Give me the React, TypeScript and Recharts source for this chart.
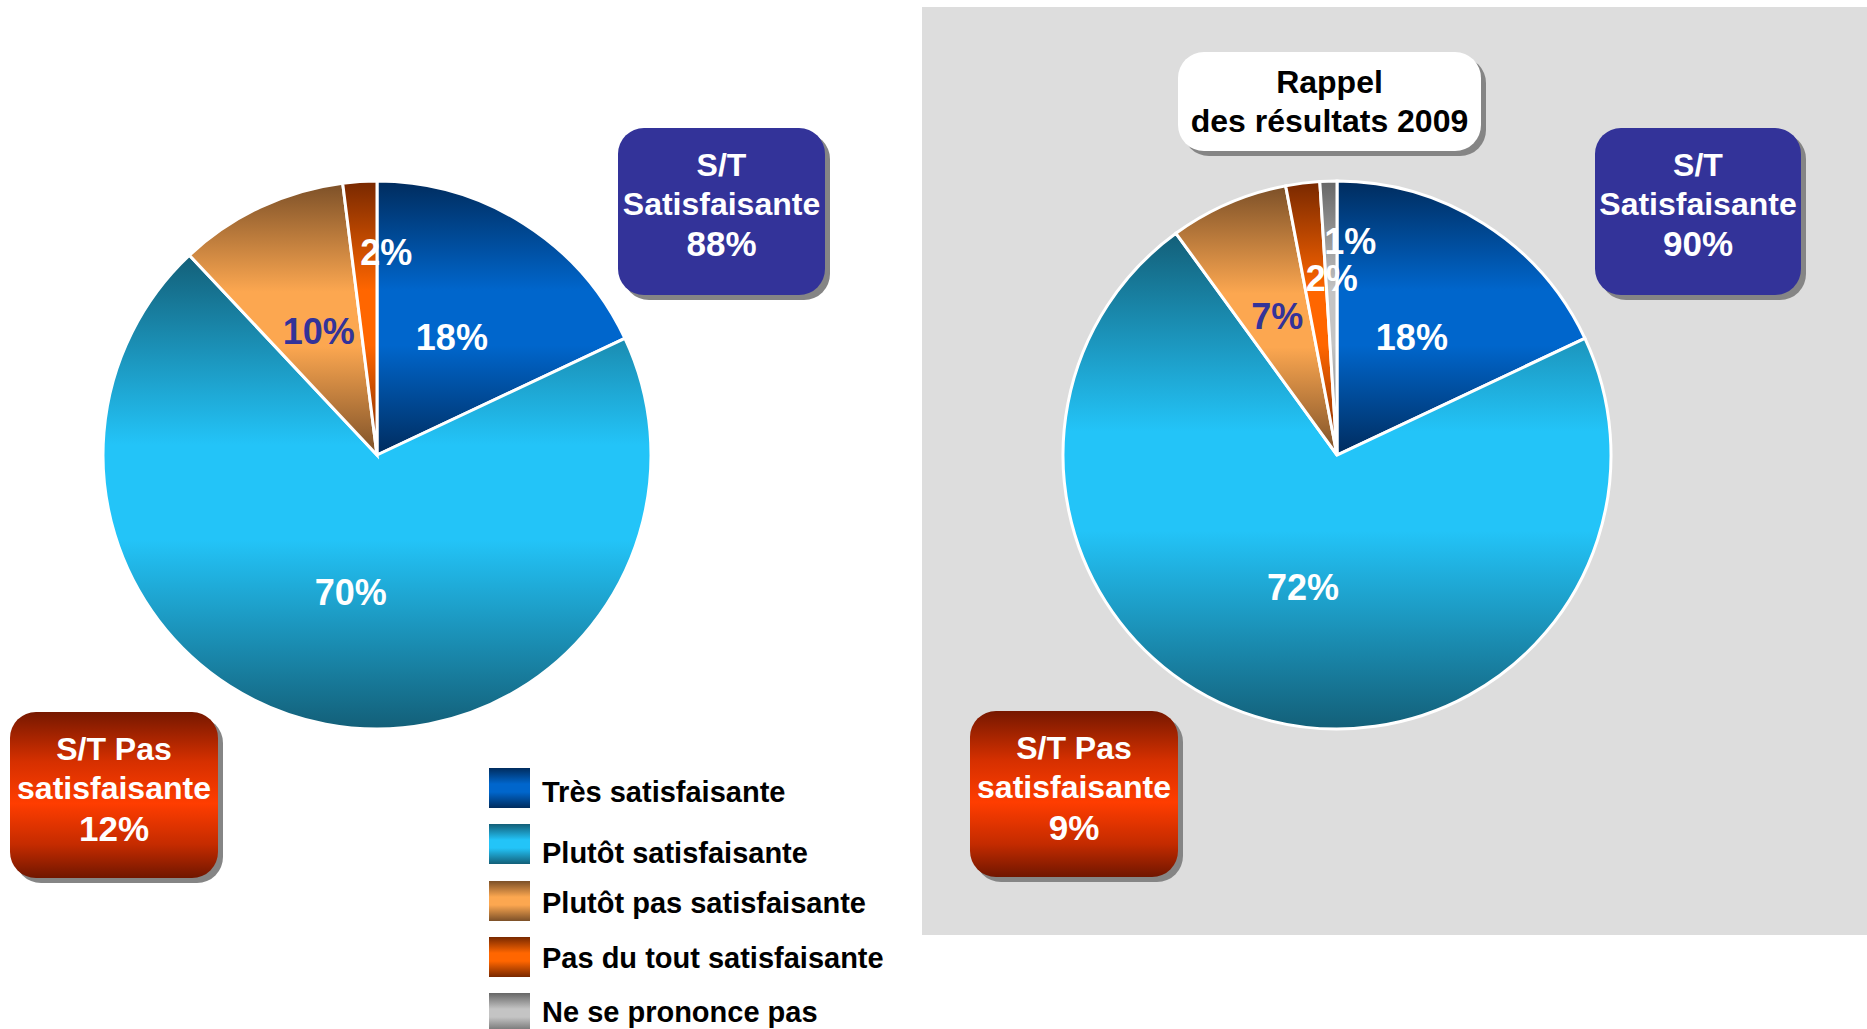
import React from "react";
import { Cell, Pie, PieChart } from "recharts";

const CATEGORIES = [
  "Très satisfaisante",
  "Plutôt satisfaisante",
  "Plutôt pas satisfaisante",
  "Pas du tout satisfaisante",
  "Ne se prononce pas",
];
const VALUES_CURRENT = [18, 70, 10, 2, 0];
const VALUES_2009 = [18, 72, 7, 2, 1];
const SUBTOTAL_SATISF = [88, 90];
const SUBTOTAL_PAS_SATISF = [12, 9];
const REMINDER_LINES = ["Rappel", "des résultats 2009"];

const FONT = "'Liberation Sans', Arial, Helvetica, sans-serif";
const RAD = Math.PI / 180;

// gradients: dark -> bright -> dark, top to bottom
const SLICE_GRADIENTS = [
  { id: "g-tres", dark: "#002c5e", bright: "#0066cc" },
  { id: "g-plutot", dark: "#135f78", bright: "#23c4f8" },
  { id: "g-plutotpas", dark: "#7c5028", bright: "#fca750" },
  { id: "g-pasdutout", dark: "#782800", bright: "#ff6600" },
  { id: "g-nsp", dark: "#666666", bright: "#c4c4c4" },
];
const LABEL_COLORS = ["#ffffff", "#ffffff", "#333399", "#ffffff", "#ffffff"];

// label placement (fraction of radius, horizontal nudge in px)
const LEFT_LABEL_RADIUS = [0.51, 0.51, 0.5, 0.74, 0];
const LEFT_LABEL_SHIFT = [0, 0, 0, 22, 0];
const RIGHT_LABEL_RADIUS = [0.51, 0.5, 0.55, 0.65, 0.78];
const RIGHT_LABEL_SHIFT = [0, 0, 0, 17, 20];

// legend rows: swatch top and text baseline
const LEGEND_SWATCH_TOP = [768, 824, 881, 937, 993];
const LEGEND_TEXT_BASE = [802, 863, 913, 968, 1022];

const toRows = (values: number[]) =>
  CATEGORIES.map((name, i) => ({ name, value: values[i] }));

function makeLabel(radii: number[], shifts: number[]) {
  return (props: any) => {
    const { cx, cy, midAngle, outerRadius, index, value } = props;
    if (!value) return null;
    const r = outerRadius * radii[index];
    const x = cx + r * Math.cos(-midAngle * RAD) + shifts[index];
    const y = cy + r * Math.sin(-midAngle * RAD);
    return (
      <text
        x={x}
        y={y}
        fill={LABEL_COLORS[index]}
        textAnchor="middle"
        dominantBaseline="central"
        fontSize={36}
        fontWeight="bold"
        fontFamily={FONT}
      >
        {`${value}%`}
      </text>
    );
  };
}

function SatisfactionPie({ values, width, height, cx, cy, radii, shifts }: any) {
  const rows = toRows(values);
  return (
    <PieChart width={width} height={height} margin={{ top: 0, right: 0, bottom: 0, left: 0 }}>
      <Pie
        data={rows}
        dataKey="value"
        nameKey="name"
        cx={cx}
        cy={cy}
        outerRadius={274}
        startAngle={90}
        endAngle={-270}
        stroke="#ffffff"
        strokeWidth={3}
        labelLine={false}
        label={makeLabel(radii, shifts)}
        isAnimationActive={false}
      >
        {rows.map((row, i) => (
          <Cell key={row.name} fill={`url(#${SLICE_GRADIENTS[i].id})`} />
        ))}
      </Pie>
    </PieChart>
  );
}

function Callout({ x, y, w, h, fill, lines, color = "#ffffff" }: any) {
  return (
    <g>
      <rect x={x + 5} y={y + 5} width={w} height={h} rx={26} fill="#858585" />
      <rect x={x} y={y} width={w} height={h} rx={26} fill={fill} />
      {lines.map((line: { text: string; size: number; base: number }, i: number) => (
        <text
          key={i}
          x={x + w / 2}
          y={y + line.base}
          textAnchor="middle"
          fontSize={line.size}
          fontWeight="bold"
          fontFamily={FONT}
          fill={color}
        >
          {line.text}
        </text>
      ))}
    </g>
  );
}

const satisfLines = (pct: number) => [
  { text: "S/T", size: 32, base: 48 },
  { text: "Satisfaisante", size: 32, base: 87 },
  { text: `${pct}%`, size: 35, base: 128 },
];
const pasSatisfLines = (pct: number) => [
  { text: "S/T Pas", size: 32, base: 48 },
  { text: "satisfaisante", size: 32, base: 87 },
  { text: `${pct}%`, size: 35, base: 129 },
];

export default function App() {
  return (
    <div
      style={{
        position: "absolute",
        left: 0,
        top: 0,
        width: 1867,
        height: 1029,
        overflow: "hidden",
        background: "#ffffff",
      }}
    >
      <svg width={0} height={0} style={{ position: "absolute" }}>
        <defs>
          {SLICE_GRADIENTS.map((g) => (
            <linearGradient key={g.id} id={g.id} x1="0" y1="0" x2="0" y2="1">
              <stop offset="0%" stopColor={g.dark} />
              <stop offset="40%" stopColor={g.bright} />
              <stop offset="60%" stopColor={g.bright} />
              <stop offset="100%" stopColor={g.dark} />
            </linearGradient>
          ))}
          <linearGradient id="g-red-box" x1="0" y1="0" x2="0" y2="1">
            <stop offset="0%" stopColor="#761800" />
            <stop offset="30%" stopColor="#d63000" />
            <stop offset="55%" stopColor="#ff3d00" />
            <stop offset="80%" stopColor="#c42b00" />
            <stop offset="100%" stopColor="#701600" />
          </linearGradient>
        </defs>
      </svg>

      <div
        style={{
          position: "absolute",
          left: 922,
          top: 7,
          width: 945,
          height: 928,
          background: "#dddddd",
        }}
      />

      <div style={{ position: "absolute", left: 0, top: 0 }}>
        <SatisfactionPie
          values={VALUES_CURRENT}
          width={922}
          height={935}
          cx={377}
          cy={455}
          radii={LEFT_LABEL_RADIUS}
          shifts={LEFT_LABEL_SHIFT}
        />
      </div>
      <div style={{ position: "absolute", left: 922, top: 7 }}>
        <SatisfactionPie
          values={VALUES_2009}
          width={945}
          height={928}
          cx={415}
          cy={448}
          radii={RIGHT_LABEL_RADIUS}
          shifts={RIGHT_LABEL_SHIFT}
        />
      </div>

      <svg
        width={1867}
        height={1029}
        style={{ position: "absolute", left: 0, top: 0, pointerEvents: "none" }}
      >
        <Callout x={618} y={128} w={207} h={167} fill="#333399" lines={satisfLines(SUBTOTAL_SATISF[0])} />
        <Callout x={10} y={712} w={208} h={166} fill="url(#g-red-box)" lines={pasSatisfLines(SUBTOTAL_PAS_SATISF[0])} />
        <Callout x={1595} y={128} w={206} h={167} fill="#333399" lines={satisfLines(SUBTOTAL_SATISF[1])} />
        <Callout x={970} y={711} w={208} h={166} fill="url(#g-red-box)" lines={pasSatisfLines(SUBTOTAL_PAS_SATISF[1])} />
        <Callout
          x={1178}
          y={52}
          w={303}
          h={99}
          fill="#ffffff"
          color="#000000"
          lines={[
            { text: REMINDER_LINES[0], size: 32, base: 41 },
            { text: REMINDER_LINES[1], size: 32, base: 80 },
          ]}
        />

        {CATEGORIES.map((name, i) => (
          <g key={name}>
            <rect
              x={489}
              y={LEGEND_SWATCH_TOP[i]}
              width={41}
              height={40}
              fill={`url(#${SLICE_GRADIENTS[i].id})`}
            />
            <text
              x={542}
              y={LEGEND_TEXT_BASE[i]}
              fontSize={29}
              fontWeight="bold"
              fontFamily={FONT}
              fill="#000000"
            >
              {name}
            </text>
          </g>
        ))}
      </svg>
    </div>
  );
}
